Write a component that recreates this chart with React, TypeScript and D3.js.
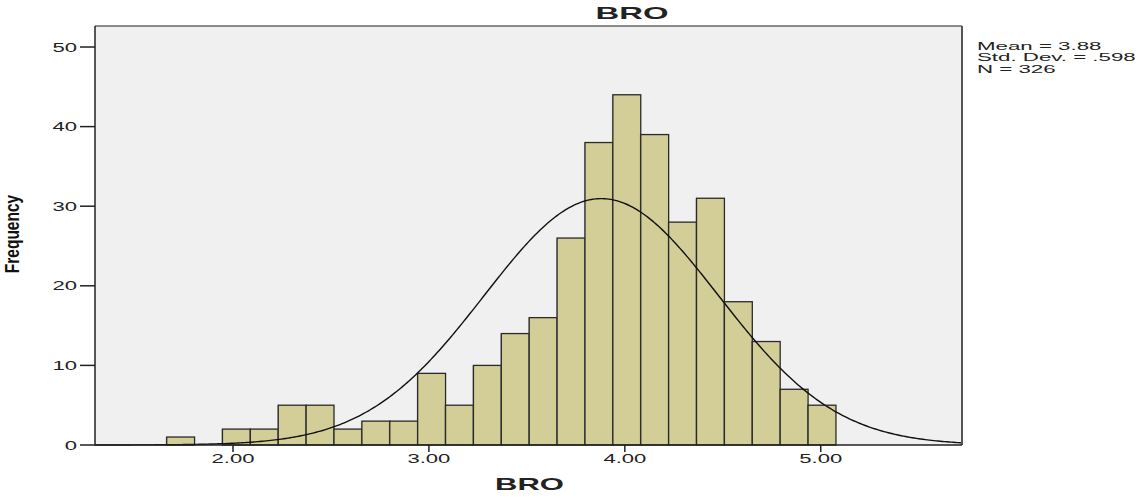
import React from "react";
import * as d3 from "d3";

const counts = [1, 0, 2, 2, 5, 5, 2, 3, 3, 9, 5, 10, 14, 16, 26, 38, 44, 39, 28, 31, 18, 13, 7, 5];
const binStart = 1.6615;
const binWidth = 0.14234;
const xTicks = [2, 3, 4, 5];
const yTicks = [0, 10, 20, 30, 40, 50];
const statLines = ["Mean = 3.88", "Std. Dev. = .598", "N = 326"];
const mean = 3.88;
const sd = 0.598;
const n = 326;
const title = "BRO";
const xLabel = "BRO";
const yLabel = "Frequency";

const W = 1137;
const H = 500;
const left = 95, right = 962, top = 26, bottom = 445;

const x = d3.scaleLinear().domain([1.2956, 5.721]).range([left, right]);
const y = d3.scaleLinear().domain([0, 52.64]).range([bottom, top]);

function SText({ x, y, sx = 1.84, anchor = "start", size = 12, weight = "normal", children }: any) {
  return (
    <g transform={`translate(${x},${y}) scale(${sx},1)`}>
      <text textAnchor={anchor} fontSize={size} fontWeight={weight} fontFamily="'Liberation Sans', Arial, sans-serif" fill="#222">
        {children}
      </text>
    </g>
  );
}

export default function App() {
  const bins = counts.map((c, i) => ({ x0: binStart + i * binWidth, x1: binStart + (i + 1) * binWidth, c }));
  const pdf = (v: number) => (n * binWidth) / (sd * Math.sqrt(2 * Math.PI)) * Math.exp(-0.5 * ((v - mean) / sd) ** 2);
  const pts = d3.range(0, 401).map((i) => {
    const v = x.domain()[0] + (i / 400) * (x.domain()[1] - x.domain()[0]);
    return [v, pdf(v)] as [number, number];
  });
  const line = d3.line<[number, number]>().x((d) => x(d[0])).y((d) => y(d[1])).curve(d3.curveLinear);

  return (
    <svg width={W} height={H} style={{ position: "absolute", left: 0, top: 0, background: "#fff" }}>
      <rect x={left} y={top} width={right - left} height={bottom - top} fill="#f0f0f0" />
      {bins.map((b, i) =>
        b.c > 0 ? (
          <g key={i}>
            <rect x={x(b.x0) - 1} y={y(b.c)} width={x(b.x1) - x(b.x0)} height={y(0) - y(b.c)} fill="#555" opacity={0.35} />
            <rect x={x(b.x0)} y={y(b.c)} width={x(b.x1) - x(b.x0)} height={y(0) - y(b.c)} fill="#d3ce97" stroke="#2a2a2a" strokeWidth={1.3} />
          </g>
        ) : null
      )}
      <path d={line(pts) || ""} fill="none" stroke="#111" strokeWidth={1.4} />
      <line x1={left} x2={right} y1={top} y2={top} stroke="#666" strokeWidth={1.5} />
      <line x1={right} x2={right} y1={top} y2={bottom} stroke="#555" strokeWidth={2} />
      <line x1={left} x2={left} y1={top} y2={bottom + 0.5} stroke="#222" strokeWidth={1.5} />
      <line x1={left} x2={right} y1={bottom} y2={bottom} stroke="#222" strokeWidth={1.5} />
      {yTicks.map((t) => (
        <g key={t}>
          <line x1={80} x2={left} y1={y(t)} y2={y(t)} stroke="#222" strokeWidth={1.5} />
          <SText x={77} y={y(t) + 4.5} anchor="end">{t}</SText>
        </g>
      ))}
      {xTicks.map((t) => (
        <g key={t}>
          <line x1={x(t)} x2={x(t)} y1={bottom} y2={bottom + 7} stroke="#222" strokeWidth={1.5} />
          <SText x={x(t)} y={463} anchor="middle">{d3.format(".2f")(t)}</SText>
        </g>
      ))}
      <SText x={632} y={18.5} anchor="middle" size={16.5} weight="bold" sx={1.99}>{title}</SText>
      <SText x={529.5} y={490} anchor="middle" size={16.5} weight="bold" sx={1.88}>{xLabel}</SText>
      <g transform={`translate(19,234) scale(1.3,1) rotate(-90)`}>
        <text textAnchor="middle" fontSize={15.5} fontWeight="bold" fontFamily="'Liberation Sans', Arial, sans-serif" fill="#111">
          {yLabel}
        </text>
      </g>
      {statLines.map((s, i) => (
        <SText key={i} x={977} y={49.5 + i * 11.5} size={10} sx={2.23}>{s}</SText>
      ))}
    </svg>
  );
}
